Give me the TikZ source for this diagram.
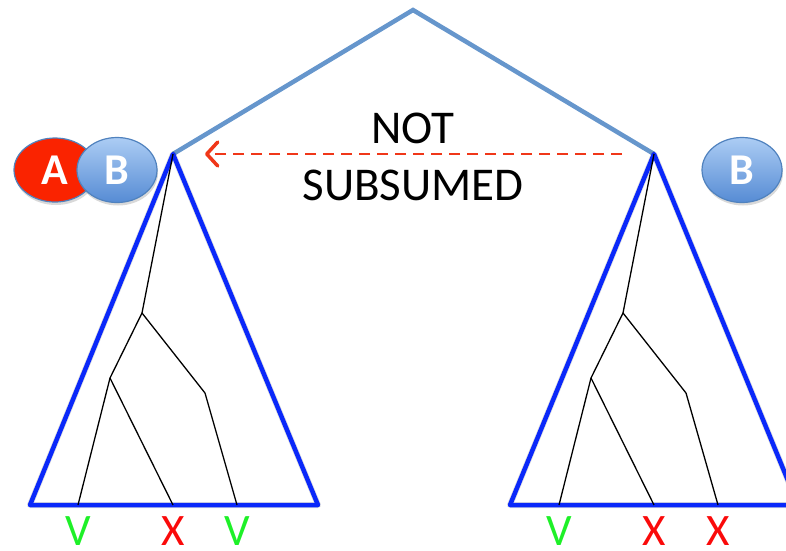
\documentclass[tikz,border=0pt]{standalone}
\usepackage{fontspec}
\setmainfont{Carlito}
\usetikzlibrary{arrows.meta,shadows,shapes.geometric}
\definecolor{roofblue}{RGB}{102,150,204}
\definecolor{triblue}{RGB}{10,40,250}
\definecolor{vgreen}{RGB}{30,240,40}
\definecolor{xred}{RGB}{250,10,10}
\definecolor{ared}{RGB}{250,35,0}
\definecolor{bedge}{RGB}{80,130,190}
\definecolor{arrred}{RGB}{240,55,25}
\tikzset{
  roof/.style={draw=roofblue,line width=4.5pt,line join=miter},
  tri/.style={draw=triblue,line width=4.5pt,line join=round},
  trishadow/.style={draw=black,opacity=0.12,line width=6pt,line join=round,shift={(1.5,3.5)}},
  branch/.style={draw=black,line width=1.3pt},
  ellA/.style={ellipse,minimum width=82pt,minimum height=64pt,draw=bedge,line width=1.2pt,fill=ared,text=white,font=\fontsize{44}{44}\selectfont\bfseries,inner sep=0pt,drop shadow={opacity=0.3,shadow xshift=1pt,shadow yshift=-3pt}},
  ellB/.style={ellipse,minimum width=80pt,minimum height=65pt,draw=bedge,line width=1.2pt,top color={rgb,255:red,172;green,204;blue,244},bottom color={rgb,255:red,86;green,140;blue,212},text=white,font=\fontsize{44}{44}\selectfont\bfseries,inner sep=0pt,drop shadow={opacity=0.3,shadow xshift=1pt,shadow yshift=-3pt}},
  leafV/.style={text=vgreen,font=\fontsize{45}{45}\selectfont,inner sep=0pt,anchor=base},
  leafX/.style={text=xred,font=\fontsize{45}{45}\selectfont,inner sep=0pt,anchor=base},
  bigtxt/.style={font=\fontsize{47}{47}\selectfont,inner sep=0pt,anchor=base},
  dasharrow/.style={draw=arrred,line width=2pt,dash pattern=on 11pt off 7pt,-{Straight Barb[length=11pt,width=24pt,line width=3.5pt,round]}}
}
\begin{document}
\begin{tikzpicture}[x=1pt,y=-1pt]
\useasboundingbox (0,0) rectangle (786,550);
% coordinates
\coordinate (top) at (413,10);
\coordinate (L) at (173,154);
\coordinate (R) at (654,154);
% left tree
\coordinate (Lbl) at (30,505);
\coordinate (Lbr) at (318,505);
\coordinate (Ln1) at (142,313);
\coordinate (Ln2) at (110,378);
\coordinate (Ln3) at (205,393);
\coordinate (Ll1) at (78,505);
\coordinate (Ll2) at (173,505);
\coordinate (Ll3) at (237,505);
% right tree
\coordinate (Rbl) at (510,505);
\coordinate (Rbr) at (798,505);
\coordinate (Rn1) at (623,313);
\coordinate (Rn2) at (591,378);
\coordinate (Rn3) at (686,393);
\coordinate (Rl1) at (559,505);
\coordinate (Rl2) at (654,505);
\coordinate (Rl3) at (718,505);
% roof
\draw[roof] (L) -- (top) -- (R);
% triangle shadows
\draw[trishadow] (L) -- (Lbl) -- (Lbr) -- cycle;
\draw[trishadow] (R) -- (Rbl) -- (Rbr) -- cycle;
% triangles
\draw[tri] (L) -- (Lbl) -- (Lbr) -- cycle;
\draw[tri] (R) -- (Rbl) -- (Rbr) -- cycle;
% branches
\draw[branch] (L) -- (Ln1);
\draw[branch] (Ln1) -- (Ln2);
\draw[branch] (Ln1) -- (Ln3);
\draw[branch] (Ln2) -- (Ll1);
\draw[branch] (Ln2) -- (Ll2);
\draw[branch] (Ln3) -- (Ll3);
\draw[branch] (R) -- (Rn1);
\draw[branch] (Rn1) -- (Rn2);
\draw[branch] (Rn1) -- (Rn3);
\draw[branch] (Rn2) -- (Rl1);
\draw[branch] (Rn2) -- (Rl2);
\draw[branch] (Rn3) -- (Rl3);
% ellipses
\node[ellA] (A) at (55,170) {A};
\node[ellB] (B1) at (117,170) {B};
\node[ellB] (B2) at (742,170) {B};
% arrow
\coordinate (as) at (622,154);
\coordinate (ae) at (205,154);
\draw[dasharrow] (as) -- (ae);
\node[bigtxt] (not) at (413,143) {NOT};
\node[bigtxt] (sub) at (413,200) {SUBSUMED};
% leaf labels
\node[leafV] (lv1) at (78,545) {V};
\node[leafX] (lx1) at (173,545) {X};
\node[leafV] (lv2) at (237,545) {V};
\node[leafV] (rv1) at (559,545) {V};
\node[leafX] (rx1) at (654,545) {X};
\node[leafX] (rx2) at (718,545) {X};
\end{tikzpicture}
\end{document}
